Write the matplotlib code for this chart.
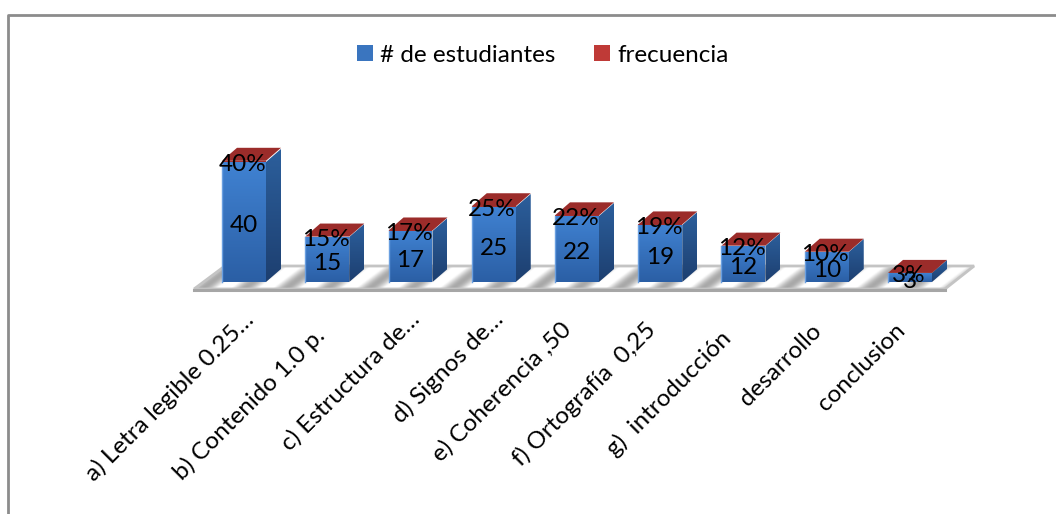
import numpy as np
import matplotlib
matplotlib.use("Agg")
import matplotlib.pyplot as plt
from matplotlib.patches import Patch, Polygon
from matplotlib.lines import Line2D

categories = ["a) Letra legible 0.25…", "b) Contenido 1.0 p.", "c) Estructura de…",
              "d) Signos de…", "e) Coherencia ,50", "f) Ortografía  0,25",
              "g)  introducción", "desarrollo", "conclusion"]
estudiantes = [40, 15, 17, 25, 22, 19, 12, 10, 3]
frecuencia = [0.40, 0.15, 0.17, 0.25, 0.22, 0.19, 0.12, 0.10, 0.03]

W, H = 1056, 514
# the plot uses category index on x and student count on y
PX_X, PX_Y = 83.25, 3.0
X0, Y0 = 244, 282
BAR_W = 44 / PX_X
DX, DY = 15 / PX_X, 13 / PX_Y
# small pixel nudges for the rotated labels (the truncated ones sit higher)
label_dx = [11, -1, 11, 11, -4, -3, -11, -3, -3]
label_dy = [-12, 4, -12, -12, -2, -2, 7, 0, 0]

plt.rcParams["font.family"] = ["Lato", "DejaVu Sans"]

fig = plt.figure(figsize=(W / 100, H / 100), dpi=100)
ax = fig.add_axes([0, 0, 1, 1])
xlim = (-X0 / PX_X, (W - X0) / PX_X)
ylim = ((Y0 - H) / PX_Y, Y0 / PX_Y)
ax.axis("off")


def gradient_face(points, top, bottom, zorder):
    # vertical colour fade clipped to a polygon
    xs = [p[0] for p in points]
    ys = [p[1] for p in points]
    c1 = np.array(matplotlib.colors.to_rgb(top))
    c2 = np.array(matplotlib.colors.to_rgb(bottom))
    t = np.linspace(0, 1, 64)[:, None]
    img = (c1 * (1 - t) + c2 * t)[:, None, :]
    im = ax.imshow(img, extent=(min(xs), max(xs), min(ys), max(ys)), aspect="auto",
                   origin="upper", zorder=zorder, interpolation="bilinear")
    im.set_clip_path(Polygon(points, closed=True, transform=ax.transData))


# floor of the 3D chart, with soft slanted bands between the bars
floor_y0, floor_y1 = -7 / PX_Y, 16 / PX_Y
floor = [(-0.60, floor_y0), (8.42, floor_y0), (8.77, floor_y1), (-0.23, floor_y1)]
gx, gy = np.meshgrid(np.linspace(-0.6, 8.77, 800), np.linspace(floor_y1, floor_y0, 24))
phase = gx - 0.35 * (gy - floor_y0) / (floor_y1 - floor_y0)
shade = 0.88 - 0.22 * np.cos(4 * np.pi * phase)
im = ax.imshow(np.clip(shade, 0, 1), cmap="gray", vmin=0, vmax=1, aspect="auto", origin="upper",
               extent=(-0.6, 8.77, floor_y0, floor_y1), zorder=1, interpolation="bilinear")
im.set_clip_path(Polygon(floor, closed=True, transform=ax.transData))
ax.add_patch(Polygon(floor, closed=True, facecolor="none", edgecolor="#c4c4c4",
                     linewidth=2, zorder=1.5))
ax.plot([-0.60, 8.42], [-8 / PX_Y, -8 / PX_Y], color="#a6a6a6", lw=2.2, zorder=1.6)

for i, (val, freq) in enumerate(zip(estudiantes, frecuencia)):
    left, right = i - BAR_W / 2, i + BAR_W / 2
    top = val + freq
    gradient_face([(left, 0), (right, 0), (right, val), (left, val)], "#4082d2", "#2b5fa5", 3)
    gradient_face([(right, 0), (right + DX, DY), (right + DX, val + DY), (right, val)],
                  "#2c5f9c", "#1d3f70", 3)
    # the frequency series is only a sliver on top of each bar, its top face shows
    ax.add_patch(Polygon([(left, val), (right, val), (right, top), (left, top)], closed=True,
                         facecolor="#a83230", edgecolor="none", zorder=4))
    ax.add_patch(Polygon([(left, top), (right, top), (right + DX, top + DY), (left + DX, top + DY)],
                         closed=True, facecolor="#9b2c2a", edgecolor="none", zorder=4))
    ax.plot([left, left], [0, val], color="#6a9fe0", lw=1, zorder=4)
    ax.text(i, val / 2 - 1.2, str(val), ha="center", va="center", fontsize=17.5, color="black", zorder=6)
    ax.text(i - 0.02, val - 0.9, f"{freq:.0%}", ha="center", va="center", fontsize=17.5,
            color="black", zorder=6)
    ax.text(i + (-13 + label_dx[i]) / PX_X, (-38 - label_dy[i]) / PX_Y, categories[i], rotation=45,
            rotation_mode="anchor", ha="right", va="top", fontsize=17.5, color="black", zorder=6)

# chart border, top and left only
ax.add_line(Line2D([8 / W, 8 / W, 1], [0, 1 - 15 / H, 1 - 15 / H], transform=ax.transAxes,
                   color="#8c8c8c", lw=2, zorder=7))

handles = [Patch(facecolor="#3a75bf", label="# de estudiantes"),
           Patch(facecolor="#bf3a37", label="frecuencia")]
ax.legend(handles=handles, loc="center", bbox_to_anchor=(543 / W, 1 - 55 / H), ncol=2,
          frameon=False, fontsize=17.5, handlelength=0.66, handleheight=0.66,
          handletextpad=0.3, columnspacing=1.6, borderpad=0)

ax.set_xlim(xlim)
ax.set_ylim(ylim)
fig.savefig("out.png", dpi=100)
